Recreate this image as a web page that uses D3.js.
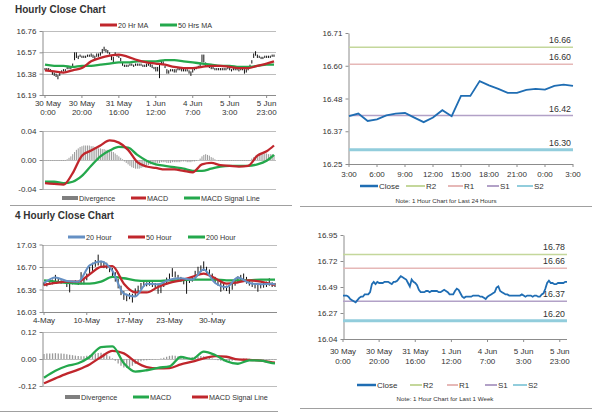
<!DOCTYPE html>
<html lang="en">
<head>
<meta charset="UTF-8" />
<title>Close Charts</title>
<script src="https://d3js.org/d3.v7.min.js"></script>
<style>
  body { margin: 0; background: #fff; }
  svg { font-family: "Liberation Sans", Arial, sans-serif; }
</style>
</head>
<body>
<svg width="600" height="413"></svg>
<script>
// ---------- data ----------
// hourly closes, 30 May 0:00 .. 5 Jun 23:00 (used by top-left bars and bottom-right line)
const hourlyClose = [
  16.42, 16.42, 16.42, 16.41, 16.39, 16.38, 16.37, 16.36, 16.38, 16.40,
  16.41, 16.41, 16.43, 16.43, 16.43, 16.45, 16.52, 16.54, 16.52, 16.54,
  16.53, 16.53, 16.53, 16.54, 16.54, 16.54, 16.53, 16.52, 16.54, 16.54,
  16.55, 16.57, 16.59, 16.58, 16.57, 16.56, 16.53, 16.50, 16.56, 16.54,
  16.53, 16.51, 16.47, 16.45, 16.45, 16.45, 16.46, 16.46, 16.45, 16.46,
  16.46, 16.46, 16.46, 16.45, 16.45, 16.46, 16.47, 16.46, 16.45, 16.43,
  16.43, 16.43, 16.46, 16.48, 16.47, 16.44, 16.41, 16.40, 16.41, 16.41,
  16.41, 16.41, 16.42, 16.42, 16.42, 16.42, 16.41, 16.41, 16.40, 16.39,
  16.41, 16.42, 16.43, 16.44, 16.45, 16.49, 16.50, 16.46, 16.45, 16.44,
  16.43, 16.43, 16.42, 16.42, 16.42, 16.42, 16.42, 16.42, 16.42, 16.43,
  16.42, 16.41, 16.42, 16.42, 16.42, 16.41, 16.42, 16.42, 16.41, 16.41,
  16.43, 16.44, 16.48, 16.53, 16.55, 16.53, 16.53, 16.52, 16.52, 16.53,
  16.53, 16.53, 16.53, 16.54, 16.54
];
// bar high above close / low below close, in cents
const hourlyUpCents = [
  1,1,1,1,1,1,1,1,1,1, 1,1,1,1,1,2,5,3,2,1, 1,1,1,1,1,2,2,2,2,2,
  2,3,3,2,2,1,1,3,1,1, 1,1,1,1,1,1,1,1,1,1, 1,1,1,1,1,1,2,1,1,1,
  1,1,1,2,2,1,1,1,1,1, 1,1,1,1,1,1,1,1,1,1, 1,1,1,1,3,6,5,2,1,1,
  1,1,1,1,1,1,1,1,1,1, 1,1,1,1,1,1,1,1,1,1, 1,2,2,3,3,2,1,1,1,1,
  1,1,1,1,1
];
const hourlyDownCents = [
  1,1,1,1,2,2,2,3,2,1, 1,1,1,1,1,1,2,2,1,1, 1,1,1,1,1,1,1,1,1,1,
  1,1,1,1,1,1,3,3,2,1, 1,2,2,1,1,1,1,1,1,1, 1,1,1,1,1,2,2,2,2,1,
  3,3,12,2,1,1,3,2,1,1, 2,2,1,1,2,2,1,1,2,3, 2,1,1,1,1,1,2,2,1,1,
  1,1,1,1,1,1,1,1,1,1, 1,1,1,1,1,1,1,1,3,2, 2,1,1,1,1,1,1,1,1,1,
  1,1,1,1,1
];
const hourlyMaIdx = [0,5,10,15,20,25,30,35,40,45,50,55,60,65,70,75,80,85,90,95,100,105,110,115,120,124];
const hourlyMA20 = [16.41,16.40,16.39,16.41,16.43,16.49,16.52,16.54,16.55,16.53,16.50,16.48,16.47,16.46,16.44,16.43,16.43,16.44,16.45,16.45,16.44,16.43,16.43,16.45,16.47,16.49];
const hourlyMA50 = [16.46,16.45,16.45,16.44,16.45,16.45,16.46,16.47,16.48,16.48,16.49,16.49,16.49,16.50,16.50,16.49,16.48,16.47,16.46,16.45,16.45,16.44,16.44,16.45,16.46,16.46];
const hourlyMacd = [-0.032,-0.033,-0.034,-0.018,0.006,0.013,0.020,0.027,0.024,0.014,-0.003,-0.009,-0.011,-0.013,-0.013,-0.015,-0.017,-0.006,-0.004,-0.007,-0.008,-0.009,-0.008,0.006,0.012,0.020];
const hourlySignal = [-0.030,-0.030,-0.032,-0.030,-0.022,-0.008,0.005,0.013,0.018,0.017,0.007,-0.001,-0.006,-0.008,-0.010,-0.012,-0.015,-0.015,-0.012,-0.009,-0.008,-0.008,-0.008,-0.006,-0.001,0.007];
const hourlyDiv = [
  -0.001,-0.001,-0.001,-0.001,-0.001,-0.001,-0.001,-0.001,-0.001,-0.001,-0.001,-0.001,
  0.001,0.003,0.005,0.008,0.011,0.014,0.016,0.018,
  0.019,0.020,0.020,0.020,0.020,0.019,0.019,0.018,
  0.017,0.016,0.016,0.015,0.015,0.014,0.014,0.013,0.012,
  0.011,0.009,0.007,0.005,0.003,0.001,
  -0.002,-0.004,-0.006,-0.008,-0.010,-0.011,-0.012,-0.012,-0.012,-0.011,-0.010,-0.009,-0.008,-0.007,-0.006,
  -0.005,-0.005,-0.004,-0.004,-0.004,-0.003,-0.003,-0.003,-0.004,-0.004,-0.004,-0.003,-0.003,
  -0.003,-0.003,-0.003,-0.002,-0.002,-0.002,-0.003,-0.003,-0.003,-0.002,-0.002,-0.001,0.000,
  0.002,0.005,0.007,0.008,0.007,0.006,0.004,0.003,0.001,0.000,
  -0.001,-0.001,-0.001,-0.001,-0.001,-0.001,-0.001,-0.001,-0.001,-0.001,-0.001,-0.001,-0.001,-0.001,-0.001,-0.001,-0.001,-0.001,
  0.002,0.004,0.006,0.007,0.008,0.009,0.009,0.009,0.009,0.008,0.008,0.008,0.007
];
const hourlyTicks = [16.19, 16.38, 16.57, 16.76];
const hourlyMacdTicks = [-0.04, 0, 0.04];
const hourlyMacdLabels = ["-0.04", "0.00", "0.04"];
const hourlyXIdx = [0, 20, 40, 60, 80, 100, 120];
const hourlyXLabels = [["30 May","0:00"],["30 May","20:00"],["31 May","16:00"],["1 Jun","12:00"],["4 Jun","7:00"],["5 Jun","3:00"],["5 Jun","23:00"]];

// 4 hourly bars
const high4h = [
  16.47,16.46,16.47,16.51,16.58,16.53,16.50,16.50,16.49,16.47,
  16.49,16.50,16.48,16.62,16.52,16.60,16.70,16.76,16.80,16.88,
  16.79,16.78,16.76,16.72,16.68,16.62,16.52,16.42,16.34,16.30,
  16.31,16.30,16.38,16.42,16.46,16.48,16.47,16.48,16.47,16.46,
  16.45,16.44,16.48,16.54,16.60,16.68,16.63,16.58,16.55,16.53,
  16.50,16.54,16.56,16.64,16.70,16.72,16.78,16.70,16.66,16.60,
  16.55,16.50,16.47,16.45,16.42,16.41,16.45,16.52,16.56,16.58,
  16.60,16.55,16.50,16.47,16.46,16.45,16.45,16.46,16.48,16.53,
  16.47,16.46
];
const low4h = [
  16.42,16.41,16.43,16.44,16.47,16.46,16.45,16.46,16.40,16.32,
  16.44,16.45,16.43,16.44,16.44,16.50,16.58,16.64,16.70,16.72,
  16.70,16.68,16.67,16.62,16.56,16.48,16.38,16.28,16.21,16.19,
  16.22,16.17,16.26,16.32,16.37,16.40,16.41,16.42,16.40,16.38,
  16.30,16.31,16.40,16.44,16.50,16.55,16.54,16.50,16.48,16.44,
  16.30,16.46,16.48,16.52,16.58,16.62,16.64,16.60,16.55,16.50,
  16.46,16.42,16.33,16.36,16.34,16.30,16.36,16.42,16.46,16.48,
  16.50,16.45,16.42,16.40,16.38,16.33,16.38,16.39,16.40,16.42,
  16.40,16.40
];
const fourHMaIdx = [0,4,8,12,16,20,24,28,32,36,40,44,48,52,56,60,64,68,72,76,80,81];
const ma20h = [16.46,16.54,16.49,16.48,16.72,16.78,16.64,16.30,16.26,16.45,16.44,16.51,16.53,16.51,16.66,16.46,16.40,16.54,16.46,16.44,16.45,16.44];
const ma50h = [16.43,16.46,16.48,16.48,16.59,16.70,16.71,16.45,16.32,16.32,16.40,16.46,16.50,16.55,16.60,16.53,16.45,16.47,16.50,16.48,16.44,16.43];
const ma200h = [16.50,16.48,16.46,16.45,16.45,16.48,16.55,16.53,16.50,16.49,16.49,16.50,16.50,16.51,16.51,16.51,16.50,16.50,16.50,16.51,16.51,16.51];
const macd4h = [-0.083,-0.052,-0.031,-0.019,0.009,0.053,0.056,-0.019,-0.056,-0.050,-0.039,-0.033,0.009,0.000,0.033,0.018,-0.010,-0.021,-0.006,-0.007,-0.018,-0.019];
const signal4h = [-0.108,-0.086,-0.065,-0.047,-0.024,0.009,0.036,0.025,-0.012,-0.036,-0.042,-0.040,-0.024,-0.012,0.003,0.013,0.010,-0.002,-0.004,-0.007,-0.015,-0.016];
const div4h = [
  0.022,0.024,0.025,0.025,0.026,0.025,0.024,0.023,
  0.021,0.019,0.017,0.015,0.013,0.012,0.012,
  0.014,0.017,0.020,0.024,0.027,0.028,0.025,0.020,
  0.012,0.003,-0.008,-0.020,-0.030,
  -0.038,-0.040,-0.037,-0.030,-0.022,-0.015,-0.010,
  -0.007,-0.005,-0.004,-0.003,-0.002,-0.001,0.002,0.006,0.010,0.014,
  0.016,0.015,0.012,0.009,0.007,0.006,
  0.006,0.008,0.010,0.012,0.013,0.012,0.009,0.005,0.002,-0.002,-0.005,
  -0.008,-0.010,-0.011,-0.010,-0.008,-0.005,-0.002,
  0.001,0.002,0.002,0.001,0.000,-0.001,-0.002,-0.002,-0.002,-0.002,-0.003,-0.003,-0.003
];
const fourHTicks = [16.03, 16.3633, 16.6967, 17.03];
const fourHLabels = ["16.03", "16.36", "16.70", "17.03"];
const fourHMacdTicks = [-0.12, 0, 0.12];
const fourHMacdLabels = ["-0.12", "0.00", "0.12"];
const fourHXIdx = [0, 15, 30, 44, 59];
const fourHXLabels = ["4-May", "10-May", "17-May", "23-May", "30-May"];

// last 24 hours close, 3:00 .. 3:00
const close24 = [16.418,16.427,16.401,16.407,16.421,16.427,16.429,16.413,16.397,16.413,16.439,16.418,16.489,16.489,16.541,16.526,16.514,16.500,16.500,16.510,16.514,16.511,16.524,16.529,16.524];
const dayTicks = [16.25, 16.365, 16.48, 16.595, 16.71];
const dayLabels = ["16.25", "16.37", "16.48", "16.60", "16.71"];
const dayXIdx = [0, 3, 6, 9, 12, 15, 18, 21, 24];
const dayXLabels = ["3:00","6:00","9:00","12:00","15:00","18:00","21:00","0:00","3:00"];
const dayLevels = [16.66, 16.60, 16.42, 16.30];

const weekTicks = [16.04, 16.2675, 16.495, 16.7225, 16.95];
const weekLabels = ["16.04", "16.27", "16.49", "16.72", "16.95"];
const weekLevels = [16.78, 16.66, 16.37, 16.20];

const levelNames = ["R2", "R1", "S1", "S2"];
const levelColors = ["#c4d79b", "#e6b8b7", "#b2a1c7", "#92cddc"];
const levelWidths = [1.5, 1.5, 1.5, 3];

// ---------- drawing ----------
const svg = d3.select("svg");
const RED = "#c0262c", GREEN = "#24a84c", BLUE = "#6590c4", CLOSE = "#1f6db3";
const AXIS = "#8c8c8c", GRID = "#bdbdbd", TXT = "#333";

function text(x, y, s, size, anchor, weight) {
  return svg.append("text").attr("x", x).attr("y", y).text(s)
    .attr("font-size", size).attr("fill", TXT)
    .attr("text-anchor", anchor || "start").attr("font-weight", weight || "normal");
}

function yAxis(x0, x1, y, ticks, labels, grid) {
  if (grid) {
    svg.append("g").selectAll("line").data(ticks).join("line")
      .attr("x1", x0).attr("x2", x1)
      .attr("y1", d => Math.round(y(d)) + 0.5).attr("y2", d => Math.round(y(d)) + 0.5)
      .attr("stroke", GRID);
  }
  const ax = svg.append("g").attr("transform", `translate(${x0 + 0.5},0)`)
    .call(d3.axisLeft(y).tickValues(ticks).tickFormat((d, i) => labels[i])
      .tickSize(3).tickPadding(3).tickSizeOuter(0));
  ax.attr("font-family", null);
  ax.select(".domain").attr("stroke", AXIS);
  ax.selectAll(".tick line").attr("stroke", AXIS);
  ax.selectAll(".tick text").attr("font-size", 8).attr("fill", TXT);
}

function xAxis(y0, x, idx, x0, x1) {
  svg.append("line").attr("x1", x0).attr("x2", x1)
    .attr("y1", y0 + 0.5).attr("y2", y0 + 0.5).attr("stroke", AXIS);
  svg.append("g").selectAll("line").data(idx).join("line")
    .attr("x1", d => x(d)).attr("x2", d => x(d))
    .attr("y1", y0).attr("y2", y0 + 3).attr("stroke", AXIS);
}

function twoLineLabels(x, idx, labels, y1, y2, dx) {
  idx.forEach((d, i) => {
    text(x(d) + (i === 0 ? dx : 0), y1, labels[i][0], 8, "middle");
    text(x(d) + (i === 0 ? dx : 0), y2, labels[i][1], 8, "middle");
  });
}

function maLine(x, y, idx, vals, color, w) {
  svg.append("path").datum(vals)
    .attr("d", d3.line().x((d, i) => x(idx[i])).y(d => y(d)).curve(d3.curveMonotoneX))
    .attr("fill", "none").attr("stroke", color).attr("stroke-width", w || 2.3);
}

function legLine(x1, x2, y, color, label, size, w) {
  svg.append("line").attr("x1", x1).attr("x2", x2).attr("y1", y).attr("y2", y)
    .attr("stroke", color).attr("stroke-width", w || 3);
  text(x2 + 1, y + size * 0.35, label, size);
}

function legRect(x1, x2, y, label, size) {
  svg.append("rect").attr("x", x1).attr("y", y - 2).attr("width", x2 - x1).attr("height", 4)
    .attr("fill", "#7f7f7f");
  text(x2 + 1, y + size * 0.35, label, size);
}

function divBars(x, y, vals, w) {
  svg.append("g").selectAll("line").data(vals).join("line")
    .attr("x1", (d, i) => x(i)).attr("x2", (d, i) => x(i))
    .attr("y1", y(0)).attr("y2", d => y(d))
    .attr("stroke", "#9a9a9a").attr("stroke-width", w);
}

// ===== Hourly Close Chart (top left) =====
text(15, 12.5, "Hourly Close Chart", 10, "start", "bold");
const xH = d3.scaleLinear().domain([0, 124]).range([45, 274]);
const yH = d3.scaleLinear().domain([16.19, 16.76]).range([95, 31]);
yAxis(42, 276, yH, hourlyTicks, hourlyTicks.map(d => d.toFixed(2)), true);
xAxis(95, xH, hourlyXIdx, 42, 276);
twoLineLabels(xH, hourlyXIdx, hourlyXLabels, 106, 115, 3);

svg.append("g").selectAll("line").data(hourlyClose).join("line")
  .attr("x1", (d, i) => xH(i)).attr("x2", (d, i) => xH(i))
  .attr("y1", (d, i) => yH(d + hourlyUpCents[i] / 100))
  .attr("y2", (d, i) => yH(d - hourlyDownCents[i] / 100))
  .attr("stroke", "#111").attr("stroke-width", 1);
maLine(xH, yH, hourlyMaIdx, hourlyMA50, GREEN);
maLine(xH, yH, hourlyMaIdx, hourlyMA20, RED);
legLine(100, 117, 25, RED, "20 Hr MA", 7.2);
legLine(160, 177, 25, GREEN, "50 Hrs MA", 7.2);

// hourly MACD
const yHM = d3.scaleLinear().domain([-0.04, 0.04]).range([189, 131]);
yAxis(42, 276, yHM, hourlyMacdTicks, hourlyMacdLabels, true);
divBars(xH, yHM, hourlyDiv, 1);
maLine(xH, yHM, hourlyMaIdx, hourlySignal, GREEN);
maLine(xH, yHM, hourlyMaIdx, hourlyMacd, RED);
legRect(62, 78, 198, "Divergence", 7.2);
legLine(131, 146, 198, RED, "MACD", 7.2);
legLine(184, 200, 198, GREEN, "MACD Signal Line", 7.2);

// ===== 4 Hourly Close Chart (bottom left) =====
text(15, 218.5, "4 Hourly Close Chart", 10, "start", "bold");
const x4 = d3.scaleLinear().domain([0, 81]).range([44, 275]);
const y4 = d3.scaleLinear().domain([16.03, 17.03]).range([312, 244.5]);
yAxis(42, 277, y4, fourHTicks, fourHLabels, true);
xAxis(312, x4, fourHXIdx, 42, 277);
fourHXIdx.forEach((d, i) => text(x4(d), 323, fourHXLabels[i], 8, "middle"));

svg.append("g").selectAll("line").data(high4h).join("line")
  .attr("x1", (d, i) => x4(i)).attr("x2", (d, i) => x4(i))
  .attr("y1", d => y4(d)).attr("y2", (d, i) => y4(low4h[i]))
  .attr("stroke", "#111").attr("stroke-width", 1);
maLine(x4, y4, fourHMaIdx, ma200h, GREEN);
maLine(x4, y4, fourHMaIdx, ma50h, RED);
maLine(x4, y4, fourHMaIdx, ma20h, BLUE, 2);
legLine(68, 85, 237, BLUE, "20 Hour", 7.2);
legLine(128, 145, 237, RED, "50 Hour", 7.2);
legLine(188, 205, 237, GREEN, "200 Hour", 7.2);

// 4 hourly MACD
const y4M = d3.scaleLinear().domain([-0.12, 0.12]).range([386, 332]);
yAxis(42, 277, y4M, fourHMacdTicks, fourHMacdLabels, true);
divBars(x4, y4M, div4h, 1.3);
maLine(x4, y4M, fourHMaIdx, signal4h, RED);
maLine(x4, y4M, fourHMaIdx, macd4h, GREEN);
legRect(65, 80, 397, "Divergence", 7.2);
legLine(133, 149, 397, GREEN, "MACD", 7.2);
legLine(192, 208, 397, RED, "MACD Signal Line", 7.2);

// ===== Right: last 24 hours =====
function levelChart(x, y, x0, x1, levels, closeVals) {
  levels.forEach((v, i) => {
    svg.append("line").attr("x1", x0).attr("x2", x1)
      .attr("y1", y(v)).attr("y2", y(v))
      .attr("stroke", levelColors[i]).attr("stroke-width", levelWidths[i]);
    text(x1 - 2, y(v) - 4, v.toFixed(2), 8.8, "end");
  });
  svg.append("path").datum(closeVals)
    .attr("d", d3.line().x((d, i) => x(i)).y(d => y(d)))
    .attr("fill", "none").attr("stroke", CLOSE).attr("stroke-width", 1.8);
}

const xD = d3.scaleLinear().domain([0, 24]).range([349, 573]);
const yD = d3.scaleLinear().domain([16.25, 16.71]).range([164, 33]);
yAxis(348, 348, yD, dayTicks, dayLabels, false);
xAxis(164, xD, dayXIdx, 348, 573);
dayXIdx.forEach((d, i) => text(xD(d), 177, dayXLabels[i], 8, "middle"));
levelChart(xD, yD, 349, 573, dayLevels, close24);
legLine(360, 378, 186, CLOSE, "Close", 8, 2.5);
levelNames.forEach((n, i) => {
  const xs = [[406, 425], [448, 463], [487, 499], [517, 533]][i];
  legLine(xs[0], xs[1], 186, levelColors[i], n, 8, 2);
});
text(446, 203, "Note: 1 Hour Chart for Last 24 Hours", 6.2, "middle");

// ===== Right: last 1 week =====
const xW = d3.scaleLinear().domain([0, 124]).range([343, 567]);
const yW = d3.scaleLinear().domain([16.04, 16.95]).range([339, 235]);
yAxis(343, 343, yW, weekTicks, weekLabels, false);
xAxis(339, xW, hourlyXIdx, 343, 567);
twoLineLabels(xW, hourlyXIdx, hourlyXLabels, 354, 364, 0);
levelChart(xW, yW, 343, 567, weekLevels, hourlyClose);
legLine(357, 376, 385, CLOSE, "Close", 8, 2.5);
levelNames.forEach((n, i) => {
  const xs = [[410, 422], [447, 458], [485, 497], [513, 527]][i];
  legLine(xs[0], xs[1], 385, levelColors[i], n, 8, 2);
});
text(445, 400.5, "Note: 1 Hour Chart for Last 1 Week", 6.2, "middle");

// separators
[[10, 292, 205.5], [300, 592, 206.5], [0, 278, 411.5], [300, 592, 408.5]].forEach(s => {
  svg.append("line").attr("x1", s[0]).attr("x2", s[1]).attr("y1", s[2]).attr("y2", s[2])
    .attr("stroke", "#a0a0a0").attr("stroke-width", 1);
});
</script>
</body>
</html>
